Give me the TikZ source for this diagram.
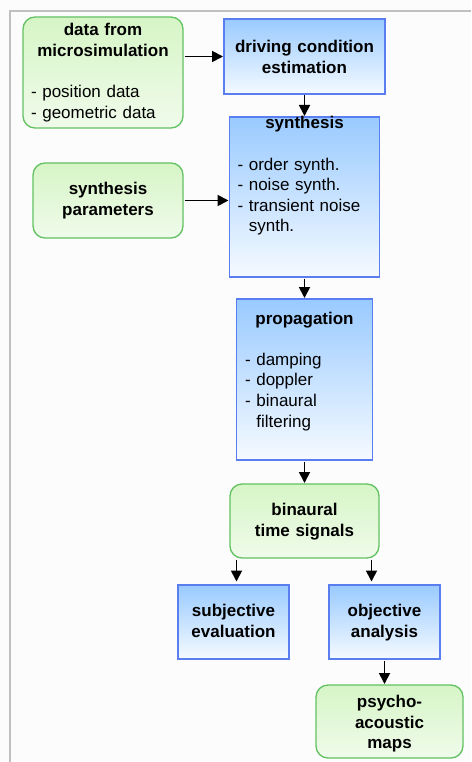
\documentclass[tikz,border=0pt]{standalone}
\usepackage{fontspec}
\setmainfont{Liberation Sans}
\usetikzlibrary{positioning,arrows.meta}
\definecolor{framegray}{HTML}{C0C0C0}
\definecolor{greenline}{HTML}{62C262}
\definecolor{greentop}{HTML}{D6F5C6}
\definecolor{greenbot}{HTML}{F0FBEB}
\definecolor{blueline}{HTML}{5A7EF0}
\definecolor{bluetop}{HTML}{99CAFF}
\definecolor{bluebot}{HTML}{F5FAFF}
\definecolor{paper}{HTML}{FCFCFC}

\begin{document}
\begin{tikzpicture}[x=1pt, y=-1pt, font=\fontsize{17}{20.6}\selectfont, inner ysep=0pt, greenbox/.style={draw=greenline, line width=1.3pt, outer sep=0pt, rounded corners=12pt, top color=greentop, bottom color=greenbot}, bluebox/.style={draw=blueline, line width=1.3pt, outer sep=0pt, top color=bluetop, bottom color=bluebot}, arr/.style={-{Triangle[length=11pt,width=11pt]}, line width=1.8pt, shorten <=1.5pt, shorten >=1pt}]
\path[use as bounding box, fill=paper] (0,0) rectangle (471,762);
\draw[framegray, line width=2pt] (471,11) -- (10,11) -- (10,762);
\node[greenbox, anchor=north west, inner xsep=8pt, text width=144pt, align=left, text height=19pt, text depth=92pt] (micro) at (23,17) {\makebox[\linewidth]{\bfseries data from}\\\makebox[\linewidth]{\bfseries microsimulation}\\[\baselineskip]- position data\\- geometric data};
\node[bluebox, below right=2pt and 41pt of micro.north east, text width=161pt, inner xsep=0pt, align=center, text height=33.5pt, text depth=41.5pt] (estim) {\bfseries driving condition\\estimation};
\node[bluebox, below=23pt of estim, text width=134pt, inner xsep=8pt, align=left, text height=12pt, text depth=148pt] (synth) {\makebox[\linewidth]{\bfseries synthesis}\\[\baselineskip]- order synth.\\- noise synth.\\- transient noise\\\phantom{- }synth.};
\node[greenbox, below right=35pt and 10pt of micro.south west, text width=150pt, inner xsep=0pt, align=center, text height=31.5pt, text depth=43.5pt] (param) {\bfseries synthesis\\parameters};
\node[bluebox, below=22pt of synth, text width=119pt, inner xsep=8.5pt, align=left, text height=25pt, text depth=136pt] (prop) {\makebox[\linewidth]{\bfseries propagation}\\[\baselineskip]- damping\\- doppler\\- binaural\\\phantom{- }filtering};
\node[greenbox, below=24pt of prop, text width=149pt, inner xsep=0pt, align=center, text height=31.5pt, text depth=42.5pt] (signals) {\bfseries binaural\\time signals};
\node[bluebox, below left=27pt and 15.5pt of signals.south, text width=111pt, inner xsep=0pt, align=center, text height=31.5pt, text depth=42.5pt] (subj) {\bfseries subjective\\evaluation};
\node[bluebox, right=40pt of subj, text width=111pt, inner xsep=0pt, align=center, text height=31.5pt, text depth=42.5pt] (obj) {\bfseries objective\\analysis};
\node[greenbox, below=26pt of obj, xshift=5pt, text width=147pt, inner xsep=0pt, align=center, text height=22.5pt, text depth=50.5pt] (maps) {\bfseries psycho-\\acoustic\\maps};
\coordinate (subjin) at ([xshift=3pt]subj.north);
\coordinate (objin) at ([xshift=-13pt]obj.north);
% arrows
\draw[arr] (micro.east |- estim.west) -- (estim.west);
\draw[arr] (estim) -- (synth);
\draw[arr] (param) -- (param -| synth.west);
\draw[arr] (synth) -- (prop);
\draw[arr] (prop) -- (signals);
\draw[arr, shorten >=3.5pt] (subjin |- signals.south) -- (subjin);
\draw[arr, shorten >=3.5pt] (objin |- signals.south) -- (objin);
\draw[arr] (obj.south) -- (obj.south |- maps.north);
\end{tikzpicture}
\end{document}
